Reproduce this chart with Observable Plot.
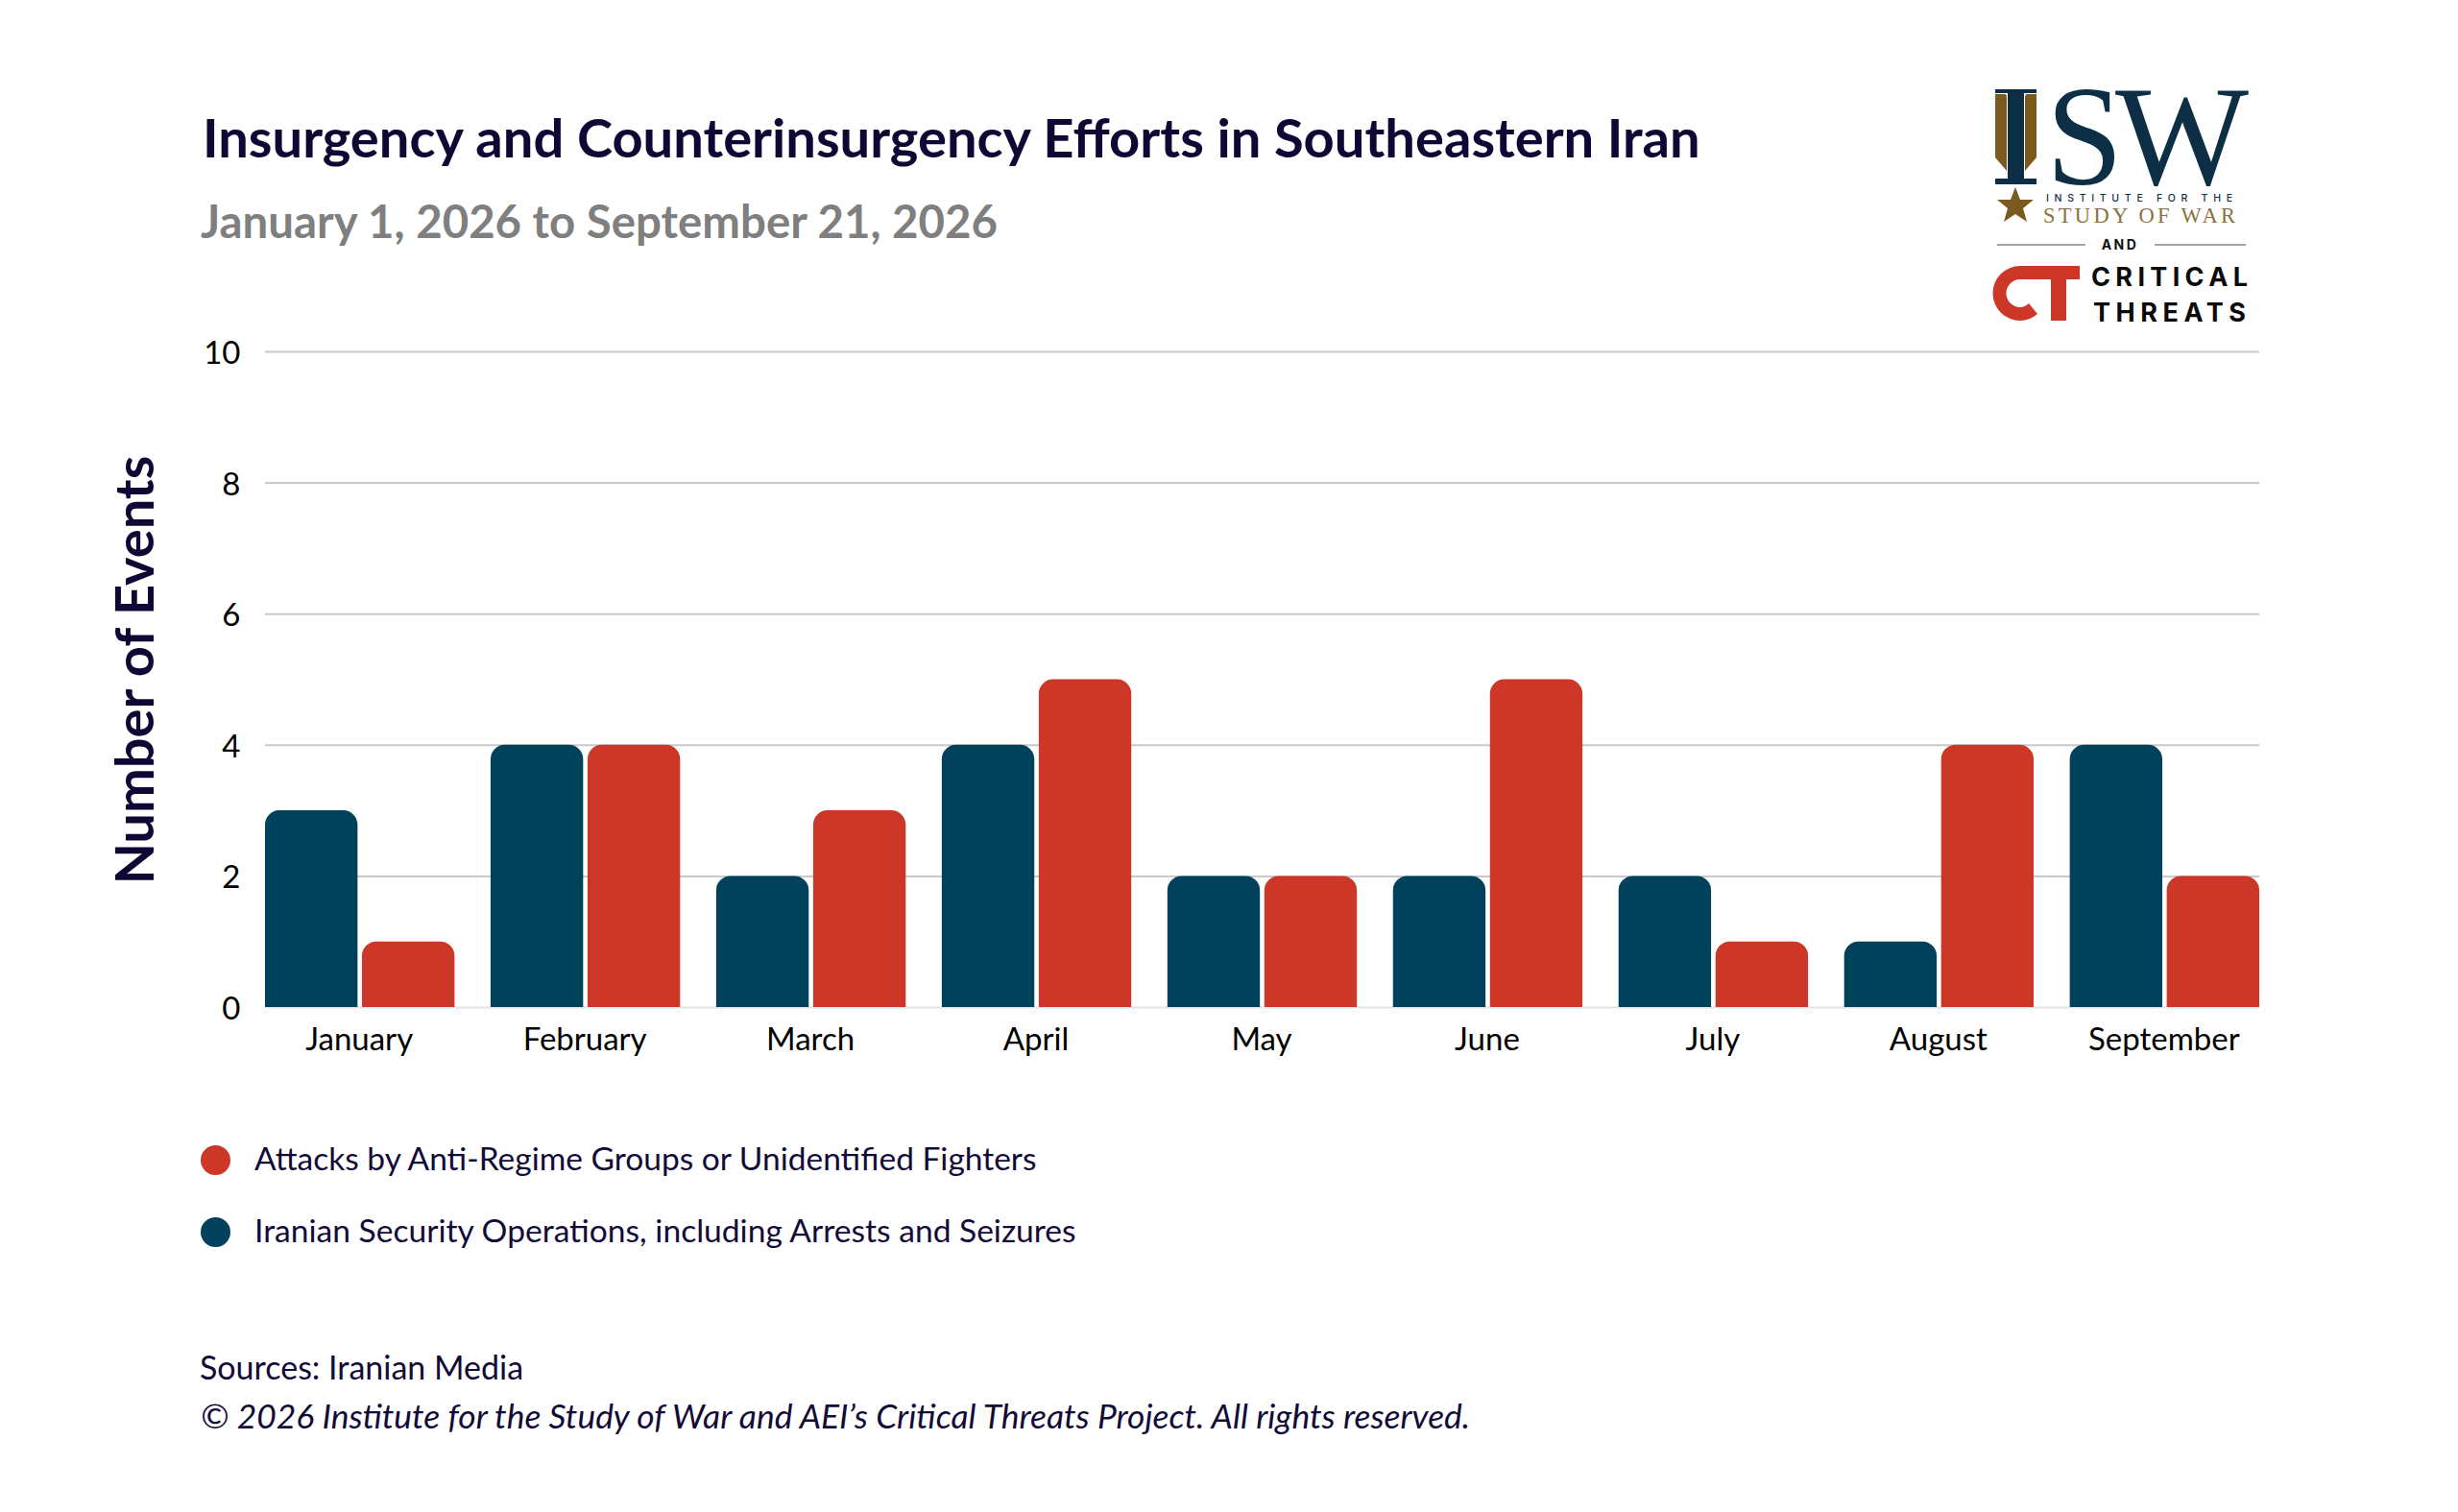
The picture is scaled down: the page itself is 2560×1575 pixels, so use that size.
<!DOCTYPE html>
<html><head><meta charset="utf-8">
<script src="https://cdn.jsdelivr.net/npm/d3@7"></script>
<script src="https://cdn.jsdelivr.net/npm/@observablehq/plot@0.6"></script>
<style>
html,body{margin:0;padding:0;background:#fff}
#page{position:relative;width:2560px;height:1575px;background:#fff;font-family:Lato,sans-serif;overflow:hidden}
#page>div,#page>svg{position:absolute;white-space:nowrap}
.t{line-height:1}
.dot{border-radius:50%;width:31px;height:31px}
</style></head><body>
<div id="page">
  <div class="t" style="left:211px;top:115px;font-size:56.1px;font-weight:700;color:#100734">Insurgency and Counterinsurgency Efforts in Southeastern Iran</div>
  <div class="t" style="left:209px;top:206px;font-size:47.4px;font-weight:700;color:#7f7f7f">January 1, 2026 to September 21, 2026</div>
  <div id="chart" style="left:0;top:300px"></div>
  <div class="dot" style="left:209px;top:1193px;background:#cd3728"></div>
  <div class="t" style="left:265px;top:1190px;font-size:33.5px;color:#120b38">Attacks by Anti-Regime Groups or Unidentified Fighters</div>
  <div class="dot" style="left:209px;top:1268px;background:#00415c"></div>
  <div class="t" style="left:265px;top:1265px;font-size:33.6px;color:#120b38">Iranian Security Operations, including Arrests and Seizures</div>
  <div class="t" style="left:208px;top:1407px;font-size:34px;color:#120b38">Sources: Iranian Media</div>
  <div class="t" style="left:209px;top:1457px;font-size:35.4px;font-style:italic;color:#120b38">© 2026 Institute for the Study of War and AEI’s Critical Threats Project. All rights reserved.</div>
  <svg id="logo" width="320" height="340" viewBox="2050 30 320 340" style="left:2050px;top:30px">
    <path d="M2078 93h43v4h-13v89h13v6h-43v-6h13v-89h-13z" fill="#0d2f45"/>
    <path d="M2078 98h10q2 0 2 4v76l-12-14zM2121 98h-10q-2 0-2 4v76l12-14z" fill="#7a5a1e"/>
    <text x="2131" y="192" font-family="Liberation Serif" font-size="148" fill="#0d2f45" textLength="80" lengthAdjust="spacingAndGlyphs">S</text>
    <text x="2203" y="192" font-family="Liberation Serif" font-size="148" fill="#0d2f45" textLength="139" lengthAdjust="spacingAndGlyphs">W</text>
    <path d="M2099 195l5 13 14 0-11 9 4 14-12-8-12 8 4-14-11-9 14 0z" fill="#7a5a1e"/>
    <text x="2131" y="210" font-family="Inter" font-size="10.5" font-weight="500" fill="#0d2f45" textLength="194">INSTITUTE FOR THE</text>
    <text x="2128" y="232" font-family="Liberation Serif" font-size="22.5" fill="#8a7240" textLength="200">STUDY OF WAR</text>
    <path d="M2080 255h92M2244 255h95" stroke="#888" stroke-width="1.5"/>
    <text x="2208" y="260" text-anchor="middle" font-family="Inter" font-size="14" font-weight="700" letter-spacing="2.5" fill="#111">AND</text>
    <path d="M2166 277V291H2152V334H2136V291H2104A14.5 14.5 0 0 0 2104 320Q2109 320 2113 316L2122 327Q2114 334 2104 334A28.5 28.5 0 0 1 2104 277Z" fill="#cd3728"/>
    <text x="2178" y="298" font-family="Inter" font-size="27" font-weight="700" fill="#0a0a0a" textLength="163">CRITICAL</text>
    <text x="2180" y="335" font-family="Inter" font-size="27" font-weight="700" fill="#0a0a0a" textLength="159">THREATS</text>
  </svg>
</div>
<script>
const months = ["January","February","March","April","May","June","July","August","September"];
const security = [3,4,2,4,2,2,2,1,4];
const attacks = [1,4,3,5,2,5,1,4,2];
const yTicks = [0,2,4,6,8,10];
const blue = "#00415c", red = "#cd3728";
const half = 101;
const rowsSecurity = months.map((m,i)=>({month:m,value:security[i]}));
const rowsAttacks = months.map((m,i)=>({month:m,value:attacks[i]}));
const plot = Plot.plot({
  width:2560, height:800,
  marginLeft:276, marginRight:207, marginTop:66, marginBottom:51,
  style:{fontFamily:"Lato,sans-serif",background:"#fff",color:"#000"},
  x:{domain:months,paddingInner:0.16,paddingOuter:0,round:false,label:null},
  y:{domain:[0,10],label:null},
  marks:[
    Plot.ruleY(yTicks.filter(d=>d>0),{stroke:"#c9c9c9",strokeWidth:2}),
    Plot.ruleY([0],{stroke:"#e4e4e4",strokeWidth:2}),
    Plot.barY(rowsSecurity,{x:"month",y:"value",fill:blue,insetRight:half,ry1:15}),
    Plot.barY(rowsAttacks,{x:"month",y:"value",fill:red,insetLeft:half,ry1:15}),
    Plot.axisX({tickSize:0,tickPadding:21,fontSize:33,label:null,anchor:"bottom",lineAnchor:"top",fill:"#000",dx:-1}),
    Plot.axisY({ticks:yTicks,tickSize:0,tickPadding:26,fontSize:33,label:null,fill:"#000",dy:2}),
    Plot.text(["Number of Events"],{frameAnchor:"left",textAnchor:"middle",rotate:-90,dx:-134,dy:-10,fontSize:56,fontWeight:700,fill:"#100734"})
  ]
});
document.getElementById("chart").appendChild(plot);
</script>
</body></html>
